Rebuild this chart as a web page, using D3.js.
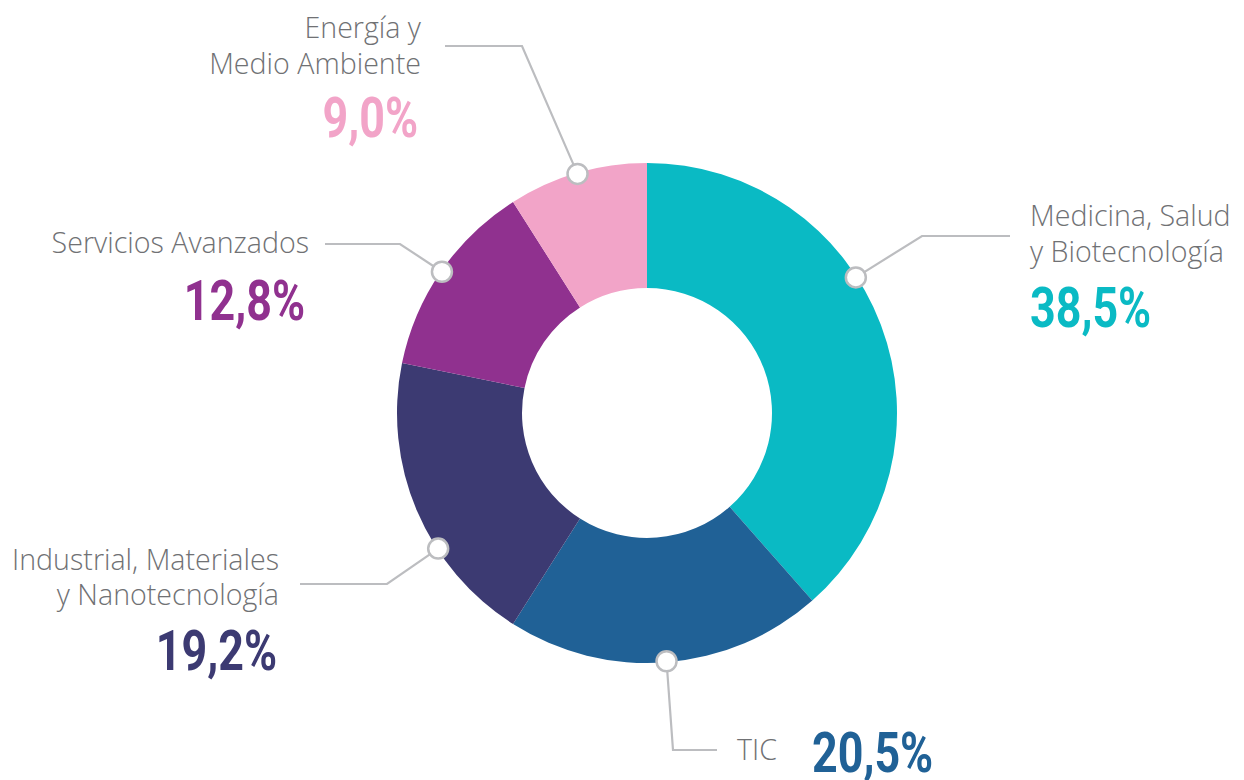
<!DOCTYPE html>
<html><head><meta charset="utf-8">
<script src="https://cdn.jsdelivr.net/npm/d3@7"></script>
<style>
html,body{margin:0;padding:0;background:#fff;}
.lbl{font-family:"Open Sans",sans-serif;font-weight:300;font-size:28.6px;fill:#707174;}
.pct{font-family:Roboto,"Liberation Sans",sans-serif;font-weight:700;font-size:56px;}
</style></head>
<body><svg id="c" width="1244" height="780"></svg>
<script>
const categories = ["Medicina, Salud|y Biotecnología","TIC","Industrial, Materiales|y Nanotecnología","Servicios Avanzados","Energía y|Medio Ambiente"];
const values = [38.5, 20.5, 19.2, 12.8, 9.0];
const valueLabels = ["38,5%","20,5%","19,2%","12,8%","9,0%"];
const colors = ["#0abac4","#206196","#3c3a72","#90318f","#f2a4c8"];

const svg = d3.select("#c");
const cx = 647, cy = 413, R = 250, r0 = 125;
const g = svg.append("g").attr("transform",`translate(${cx},${cy})`);
const pie = d3.pie().sort(null).value(d=>d)(values);
const arc = d3.arc().innerRadius(r0).outerRadius(R);
g.selectAll("path").data(pie).join("path").attr("d",arc).attr("fill",(d,i)=>colors[i]);

// layout for callouts (positions only)
const layout = [
  {ang:57, elbow:[922,236], end:[1010,236], tx:1030, anchor:"start", lines:[226,262], pct:[1030,327]},
  {ang:null, elbow:[673,750], end:[717,750], tx:737, anchor:"start", lines:[760], pct:[812,772]},
  {ang:237, elbow:[387,584], end:[300,584], tx:279, anchor:"end", lines:[570,605], pct:[277,670]},
  {ang:null, elbow:[400,244], end:[325,244], tx:309, anchor:"end", lines:[253], pct:[305,320]},
  {ang:null, elbow:[522,46], end:[445,46], tx:421, anchor:"end", lines:[38,74], pct:[418,137]}
];
const dotR = 249;
const sx = 0.8;
pie.forEach((p,i)=>{
  const L = layout[i];
  const a = L.ang!==null ? L.ang*Math.PI/180 : (p.startAngle+p.endAngle)/2;
  const dx = cx + dotR*Math.sin(a), dy = cy - dotR*Math.cos(a);
  svg.append("polyline")
    .attr("points",[[dx,dy],L.elbow,L.end].map(q=>q.join(",")).join(" "))
    .attr("fill","none").attr("stroke","#bcbdc0").attr("stroke-width",2.2);
  svg.append("circle").attr("cx",dx).attr("cy",dy).attr("r",10)
    .attr("fill","#fff").attr("stroke","#bcbdc0").attr("stroke-width",2.5);
  const parts = categories[i].split("|");
  parts.forEach((t,k)=>{
    svg.append("text").attr("class","lbl").attr("x",L.tx).attr("y",L.lines[k])
      .attr("text-anchor",L.anchor).text(t);
  });
  svg.append("g").attr("transform",`translate(${L.pct[0]},${L.pct[1]}) scale(${sx},1)`)
    .append("text").attr("class","pct").attr("x",0).attr("y",0)
    .attr("text-anchor",L.anchor).attr("fill",colors[i]).text(valueLabels[i]);
});
</script></body></html>
